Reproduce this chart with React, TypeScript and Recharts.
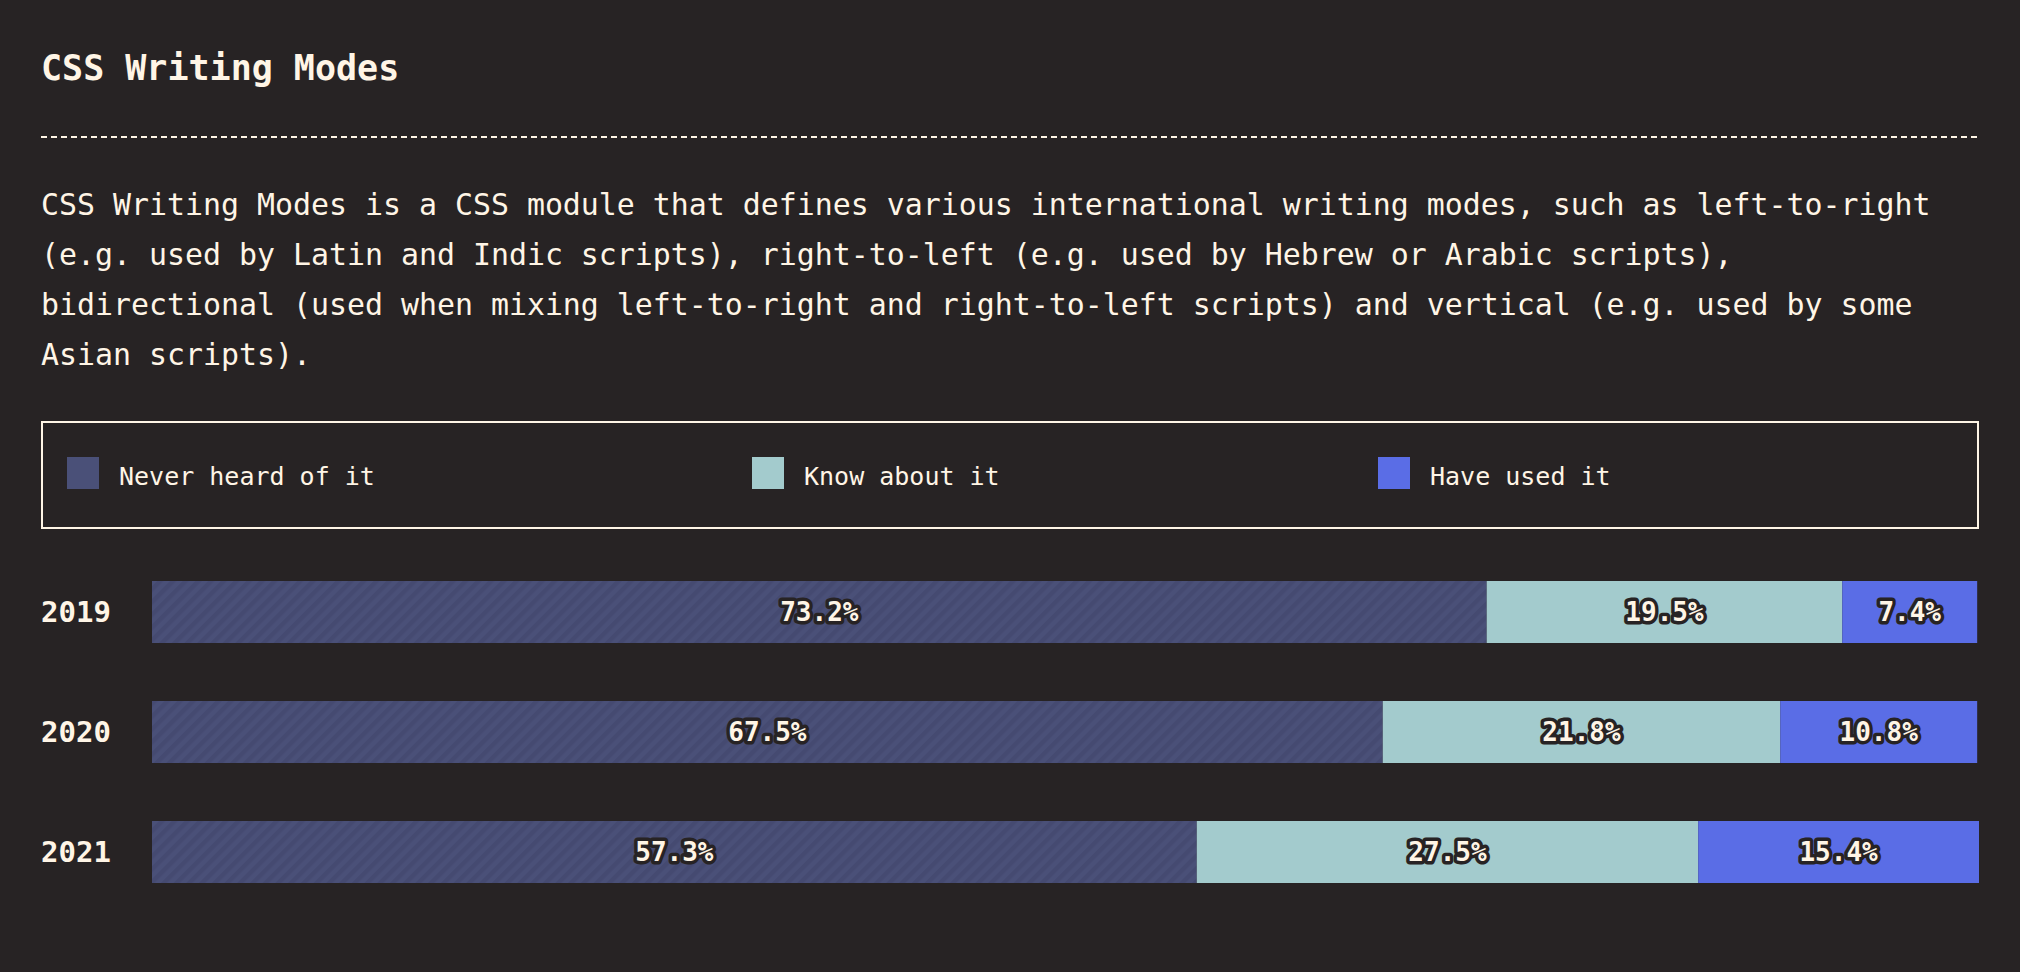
import React from 'react';
import { BarChart, Bar, XAxis, YAxis, Legend, LabelList } from 'recharts';

const years = ['2019', '2020', '2021'];
const neverHeard = [73.2, 67.5, 57.3];
const knowAbout = [19.5, 21.8, 27.5];
const haveUsed = [7.4, 10.8, 15.4];
const seriesNames = ['Never heard of it', 'Know about it', 'Have used it'];
const seriesKeys = ['never', 'know', 'used'];
const seriesColors = ['#4a5078', '#a3cbcd', '#5a6de6'];

const title = 'CSS Writing Modes';
const description =
  'CSS Writing Modes is a CSS module that defines various international writing modes, such as left-to-right (e.g. used by Latin and Indic scripts), right-to-left (e.g. used by Hebrew or Arabic scripts), bidirectional (used when mixing left-to-right and right-to-left scripts) and vertical (e.g. used by some Asian scripts).';

const BG = '#272324';
const CREAM = '#fff5e6';
const MONO = '"DejaVu Sans Mono", "Liberation Mono", monospace';

const data = years.map((y, i) => ({
  year: y,
  never: neverHeard[i],
  know: knowAbout[i],
  used: haveUsed[i],
}));

const legendOffsets = [24, 709, 1335];

const LegendContent = () => (
  <div
    style={{
      position: 'relative',
      width: 1934,
      height: 104,
      border: `2px solid ${CREAM}`,
      boxSizing: 'content-box',
    }}
  >
    {seriesNames.map((name, i) => (
      <div
        key={name}
        style={{
          position: 'absolute',
          left: legendOffsets[i],
          top: 34,
          height: 32,
          display: 'flex',
          alignItems: 'center',
        }}
      >
        <div style={{ width: 32, height: 32, background: seriesColors[i] }} />
        <span
          style={{
            marginLeft: 20,
            fontFamily: MONO,
            fontSize: 25,
            color: CREAM,
            whiteSpace: 'nowrap',
            lineHeight: '32px',
            position: 'relative',
            top: 4,
          }}
        >
          {name}
        </span>
      </div>
    ))}
  </div>
);

const renderValueLabel = (props: any) => {
  const { x, y, width, height, value } = props;
  if (value == null) return null;
  return (
    <text
      x={Number(x) + Number(width) / 2}
      y={Number(y) + Number(height) / 2}
      textAnchor="middle"
      dominantBaseline="central"
      fontFamily={MONO}
      fontWeight="bold"
      fontSize={26}
      fill={CREAM}
      stroke={BG}
      strokeWidth={7}
      strokeLinejoin="round"
      paintOrder="stroke"
    >
      {`${Number(value).toFixed(1)}%`}
    </text>
  );
};

const YearTick = (props: any) => {
  const { y, payload } = props;
  return (
    <text
      x={41}
      y={y}
      textAnchor="start"
      dominantBaseline="central"
      fontFamily={MONO}
      fontWeight="bold"
      fontSize={29}
      fill={CREAM}
    >
      {payload.value}
    </text>
  );
};

export default function App() {
  return (
    <div
      style={{
        position: 'absolute',
        left: 0,
        top: 0,
        width: 2020,
        height: 972,
        background: BG,
        overflow: 'hidden',
      }}
    >
      <div
        style={{
          position: 'absolute',
          left: 41,
          top: 46,
          fontFamily: MONO,
          fontWeight: 'bold',
          fontSize: 35,
          lineHeight: '44px',
          color: CREAM,
          whiteSpace: 'nowrap',
        }}
      >
        {title}
      </div>
      <div
        style={{
          position: 'absolute',
          left: 41,
          top: 136,
          width: 1938,
          height: 2,
          background: `repeating-linear-gradient(to right, ${CREAM} 0px, ${CREAM} 6px, transparent 6px, transparent 10px)`,
        }}
      />
      <div
        style={{
          position: 'absolute',
          left: 41,
          top: 180,
          width: 1910,
          fontFamily: MONO,
          fontSize: 29.9,
          lineHeight: '50px',
          color: CREAM,
        }}
      >
        {description}
      </div>
      <div style={{ position: 'absolute', left: 0, top: 0 }}>
        <BarChart
          width={2020}
          height={972}
          data={data}
          layout="vertical"
          margin={{ top: 552, right: 41, bottom: 60, left: 41 }}
          barSize={62}
        >
          <defs>
            <pattern
              id="stripes"
              patternUnits="userSpaceOnUse"
              width={9}
              height={9}
              patternTransform="rotate(45)"
            >
              <rect x={0} y={0} width={9} height={9} fill="#4a5078" />
              <rect x={0} y={0} width={4.5} height={9} fill="#454a71" />
            </pattern>
          </defs>
          <XAxis type="number" hide domain={[0, 'dataMax']} />
          <YAxis
            type="category"
            dataKey="year"
            width={111}
            axisLine={false}
            tickLine={false}
            tick={<YearTick />}
          />
          <Legend
            layout="horizontal"
            verticalAlign="middle"
            align="center"
            wrapperStyle={{ top: 421, left: 41, width: 1938, height: 108 }}
            content={<LegendContent />}
          />
          {seriesKeys.map((k, i) => (
            <Bar
              key={k}
              dataKey={k}
              name={seriesNames[i]}
              stackId="a"
              fill={i === 0 ? 'url(#stripes)' : seriesColors[i]}
              isAnimationActive={false}
            >
              <LabelList dataKey={k} content={renderValueLabel} />
            </Bar>
          ))}
        </BarChart>
      </div>
    </div>
  );
}
